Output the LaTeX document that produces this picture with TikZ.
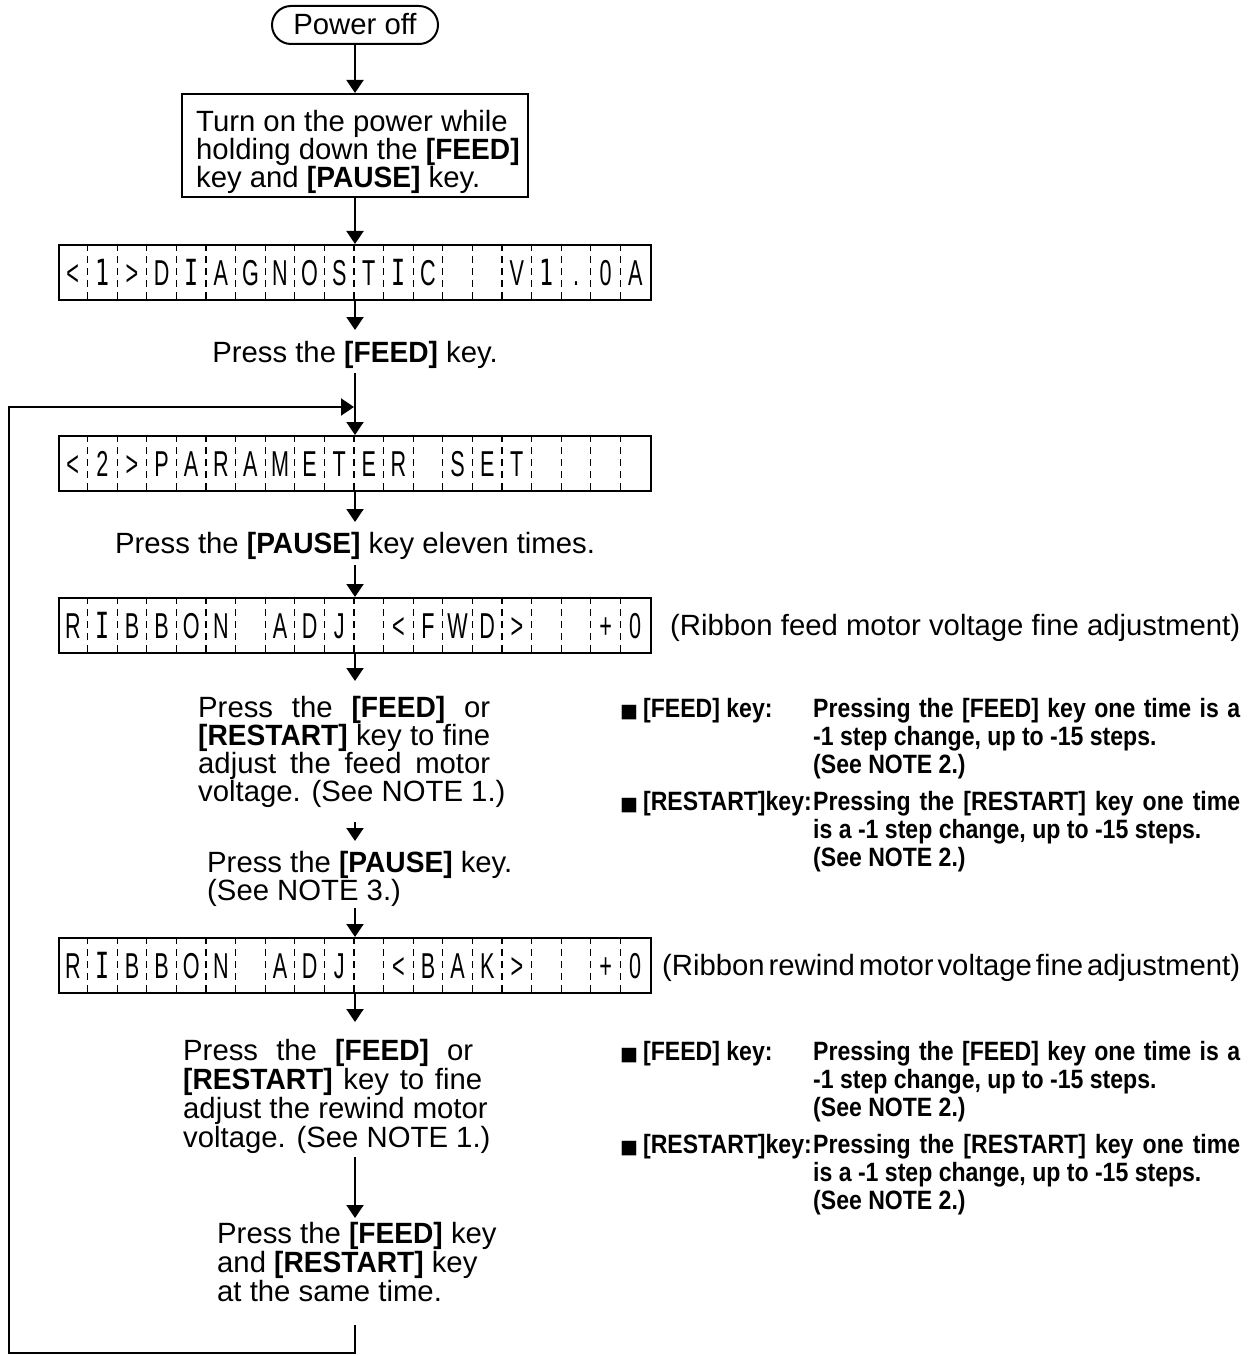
\documentclass[tikz,border=0pt]{standalone}
\usepackage{fontspec}
\setmainfont{Liberation Sans}[BoldFeatures={FakeStretch=0.96}]
\newfontfamily\condfont[FakeStretch=0.87]{Liberation Sans}
\newfontfamily\lcdfont[FakeStretch=0.6]{Liberation Sans}
\newfontfamily\lcdalt[FakeStretch=0.65]{DejaVu Sans Mono}
\newfontfamily\symfont{DejaVu Sans}
\usetikzlibrary{arrows.meta,calc}
\AtBeginDocument{\lineskiplimit=-10pt\relax}
\newcommand\LI{{\lcdalt I}}
\newcommand\LA{{\lcdalt 1}}
\newcommand\sqb{{\symfont\fontsize{19}{19}\selectfont ■}\hspace{5pt}}
\newcommand\jline[2]{\makebox[#1][s]{\spaceskip=0.12em plus 3em minus 0.05em\relax #2}}
\newcommand\mainsz{\fontsize{29.3}{28}\selectfont}
\newcommand\mainszb{\fontsize{29.3}{29}\selectfont}
\newcommand\rsz{\fontsize{26.5}{28}\selectfont\condfont\bfseries}
\tikzset{
  arr/.style={line width=2pt, -{Triangle[length=13pt,width=17pt]}},
  box/.style={draw, line width=2pt, inner sep=0pt},
  lcdbox/.style={draw, line width=2pt, minimum width=592pt, minimum height=55pt, inner sep=0pt},
  divider/.style={line width=1.3pt, dash pattern=on 7pt off 5pt},
  lcdch/.style={inner sep=0pt, anchor=base, font=\fontsize{36}{36}\lcdfont},
  txt/.style={inner sep=0pt, font=\mainsz},
  txtb/.style={inner sep=0pt, font=\mainszb},
  rtxt/.style={inner sep=0pt, font=\rsz},
}
\newcommand\lcdrow[3]{%
  \node[lcdbox] (#1) at (355,#2) {};
  \foreach \k in {1,...,19}
    \draw[divider] ($(#1.north west)+(\k*29.6,0)$) -- ($(#1.south west)+(\k*29.6,0)$);
  \foreach \c [count=\i] in {#3}
    \node[lcdch] at ($(#1.west)+(\i*29.6-14.8,12.9)$) {\c};
}
\begin{document}
\begin{tikzpicture}[x=1pt,y=-1pt]
\useasboundingbox (0,0) rectangle (1259,1356);

% start
\node[box, rounded corners=19pt, minimum width=166pt, minimum height=38pt, txt, text height=20pt, text depth=0pt] (power) at (355,25) {Power off};

\node[box, minimum width=346pt, minimum height=103pt] (turnon) at (355,145.5) {};
\node[txt, anchor=north west, align=left] (turnontxt) at (196,110) {Turn on the power while\\holding down the \textbf{[FEED]}\\key and \textbf{[PAUSE]} key.};

% LCD rows
\lcdrow{lcd1}{272.5}{<,\LA,>,D,\LI,A,G,N,O,S,T,\LI,C,{},{},V,\LA,.,0,A}
\lcdrow{lcd2}{463.5}{<,2,>,P,A,R,A,M,E,T,E,R,{},S,E,T,{},{},{},{}}
\lcdrow{lcd3}{625.5}{R,\LI,B,B,O,N,{},A,D,J,{},<,F,W,D,>,{},{},+,0}
\lcdrow{lcd4}{965.5}{R,\LI,B,B,O,N,{},A,D,J,{},<,B,A,K,>,{},{},+,0}

% main texts
\node[txt, anchor=base] (feed1) at (355,362) {Press the \textbf{[FEED]} key.};
\node[txt, anchor=base] (pause1) at (355,553) {Press the \textbf{[PAUSE]} key eleven times.};

\node[txt, anchor=north west, align=left] (adj1) at (198,696) {%
\jline{292pt}{Press the \textbf{[FEED]} or}\\
\jline{292pt}{\textbf{[RESTART]} key to fine}\\
\jline{292pt}{adjust the feed motor}\\
voltage. (See NOTE 1.)};

\node[txt, anchor=north west, align=left] (pause2) at (207,851) {Press the \textbf{[PAUSE]} key.\\(See NOTE 3.)};

\node[txtb, anchor=north west, align=left] (adj2) at (183,1039) {%
\jline{290pt}{Press the \textbf{[FEED]} or}\\
\jline{299pt}{\textbf{[RESTART]} key to fine}\\
adjust the rewind motor\\
voltage. (See NOTE 1.)};

\node[txtb, anchor=north west, align=left] (both) at (217,1222) {Press the \textbf{[FEED]} key\\and \textbf{[RESTART]} key\\at the same time.};

% side notes
\node[txt, anchor=base west] (rib1) at (670,635.5) {\jline{570pt}{(Ribbon feed motor voltage fine adjustment)}};
\node[txt, anchor=base west] (rib2) at (662,975.5) {\jline{578pt}{(Ribbon rewind motor voltage fine adjustment)}};

\node[rtxt, anchor=base west] (k1) at (620,717) {\sqb[FEED] key:};
\node[rtxt, anchor=north west, align=left] (d1) at (813,698) {%
\jline{427pt}{Pressing the [FEED] key one time is a}\\
-1 step change, up to -15 steps.\\
(See NOTE 2.)};
\node[rtxt, anchor=base west] (k2) at (620,810) {\sqb[RESTART]key:};
\node[rtxt, anchor=north west, align=left] (d2) at (813,791) {%
\jline{427pt}{Pressing the [RESTART] key one time}\\
is a -1 step change, up to -15 steps.\\
(See NOTE 2.)};

\node[rtxt, anchor=base west] (k3) at (620,1060) {\sqb[FEED] key:};
\node[rtxt, anchor=north west, align=left] (d3) at (813,1041) {%
\jline{427pt}{Pressing the [FEED] key one time is a}\\
-1 step change, up to -15 steps.\\
(See NOTE 2.)};
\node[rtxt, anchor=base west] (k4) at (620,1153) {\sqb[RESTART]key:};
\node[rtxt, anchor=north west, align=left] (d4) at (813,1134) {%
\jline{427pt}{Pressing the [RESTART] key one time}\\
is a -1 step change, up to -15 steps.\\
(See NOTE 2.)};

% connector end points
\coordinate (c1) at (355,330);
\coordinate (c2) at (355,373);
\coordinate (c3) at (355,522);
\coordinate (c4) at (355,565);
\coordinate (c5) at (355,681);
\coordinate (c6) at (355,822);
\coordinate (c7) at (355,841);
\coordinate (c8) at (355,908);
\coordinate (c9) at (355,1022);
\coordinate (c10) at (355,1157);
\coordinate (c11) at (355,1218);
\coordinate (c12) at (355,1325);
\coordinate (lb) at (9,1353);
\coordinate (loopjoin) at (354,407);

\draw[arr] (power) -- (turnon);
\draw[arr] (turnon) -- (lcd1);
\draw[arr] (lcd1) -- (c1);
\draw[arr] (c2) -- (lcd2);
\draw[arr] (lcd2) -- (c3);
\draw[arr] (c4) -- (lcd3);
\draw[arr] (lcd3) -- (c5);
\draw[arr] (c6) -- (c7);
\draw[arr] (c8) -- (lcd4);
\draw[arr] (lcd4) -- (c9);
\draw[arr] (c10) -- (c11);
\draw[arr] (c12) |- (lb) |- (loopjoin);
\end{tikzpicture}
\end{document}
